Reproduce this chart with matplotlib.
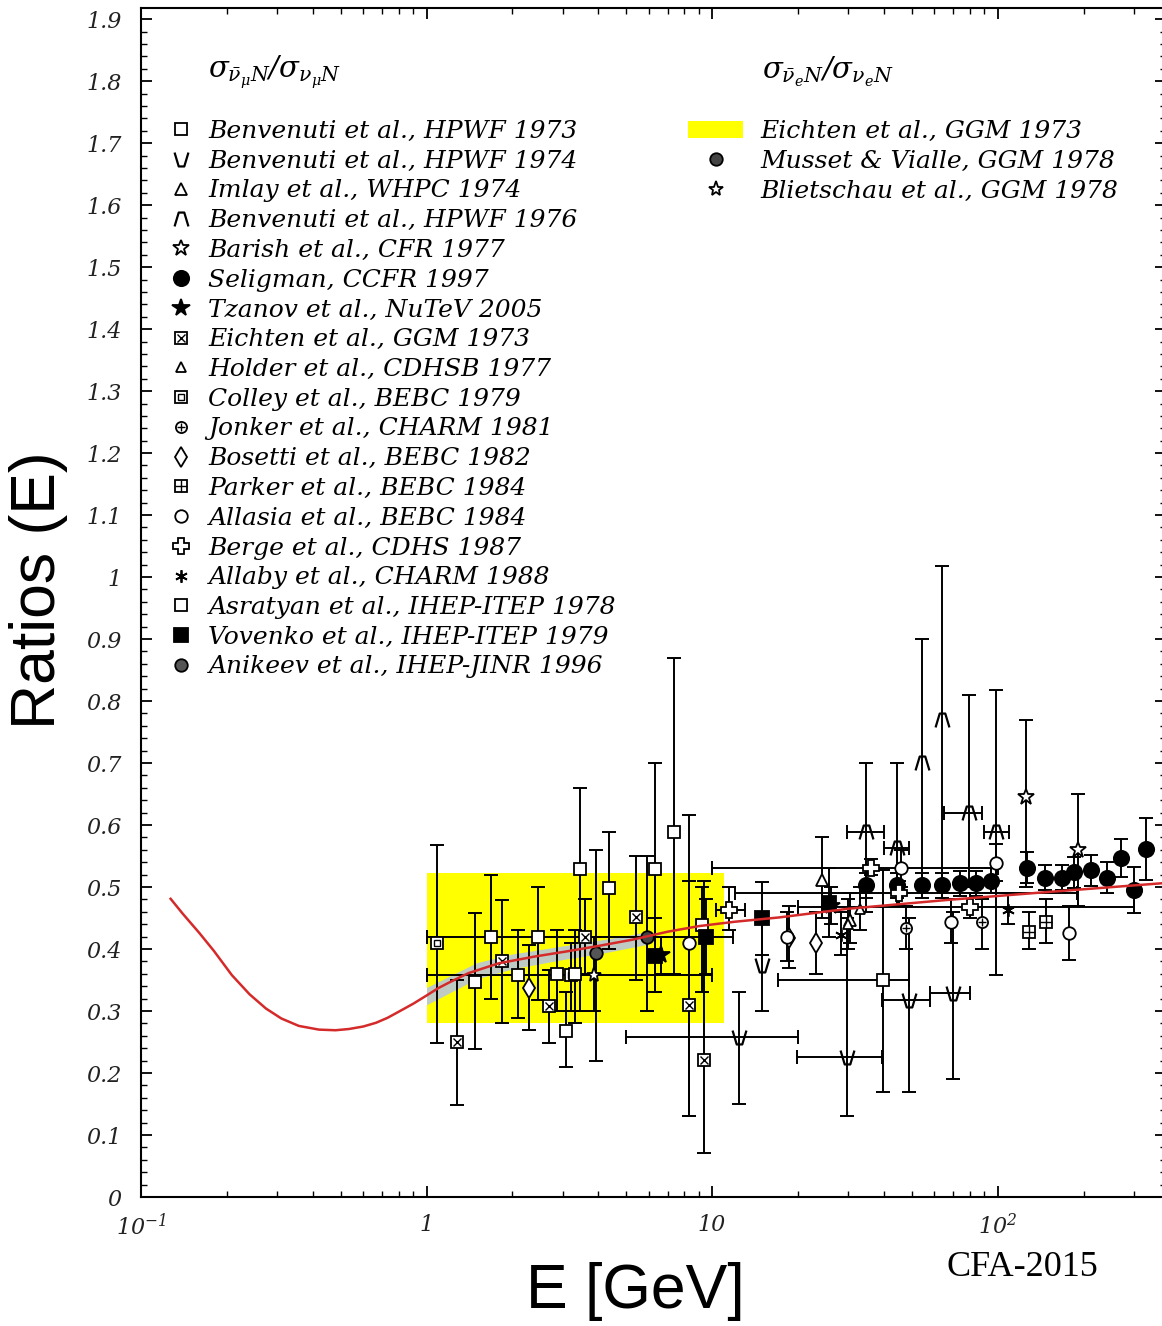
import matplotlib

matplotlib.use("Agg")
import matplotlib.pyplot as plt
from matplotlib.lines import Line2D
from matplotlib.patches import Patch
from matplotlib.ticker import FixedLocator, FixedFormatter, LogLocator, NullFormatter

plt.rcParams["mathtext.fontset"] = "custom"
plt.rcParams["mathtext.rm"] = "DejaVu Serif:italic"
plt.rcParams["mathtext.it"] = "DejaVu Serif:italic"
plt.rcParams["mathtext.sf"] = "DejaVu Serif:italic"

# ---- data: rows are (E, R, R_low, R_high[, E_low, E_high])
hpwf73 = [(1.68, 0.42, 0.32, 0.52), (2.46, 0.42, 0.318, 0.50), (3.45, 0.529, 0.30, 0.66),
          (4.36, 0.498, 0.40, 0.589), (6.33, 0.529, 0.33, 0.70), (7.36, 0.589, 0.36, 0.87),
          (9.2, 0.439, 0.33, 0.50)]
hpwf74 = [(12.4, 0.258, 0.15, 0.33, 5.0, 20.0), (29.7, 0.226, 0.13, 0.45, 19.8, 39.3),
          (49.0, 0.318, 0.17, 0.45, 39.3, 58.0), (69.7, 0.329, 0.19, 0.46, 58.0, 80.0),
          (15.0, 0.374, 0.30, 0.45)]
whpc74 = [(24.3, 0.511, 0.45, 0.58), (30.5, 0.447, 0.41, 0.49)]
hpwf76 = [(34.6, 0.589, 0.46, 0.70, 29.6, 40.0), (44.5, 0.563, 0.47, 0.70, 40.0, 49.0),
          (54.4, 0.70, 0.50, 0.90), (64.0, 0.77, 0.50, 1.018),
          (79.4, 0.62, 0.50, 0.81, 65.0, 88.0), (98.8, 0.589, 0.358, 0.818, 90.0, 110.0)]
cfr77 = [(125.9, 0.645, 0.50, 0.77), (192.0, 0.56, 0.47, 0.65)]
ccfr97_E = [34.6, 44.5, 54.4, 64, 74, 84, 94.5, 127, 147, 168, 185, 213, 242, 270, 300, 330]
ccfr97_R = [0.503, 0.503, 0.503, 0.503, 0.506, 0.506, 0.51, 0.531, 0.515, 0.515, 0.524,
            0.527, 0.515, 0.547, 0.495, 0.561]
ccfr97_err = [0.02, 0.02, 0.02, 0.02, 0.02, 0.02, 0.02, 0.025, 0.02, 0.02, 0.025, 0.025,
              0.025, 0.03, 0.037, 0.05]
nutev05 = [(6.6, 0.39, 0.36, 0.42), (26.0, 0.47, 0.44, 0.50)]
ggm73 = [(1.28, 0.25, 0.148, 0.35), (1.84, 0.38, 0.281, 0.479), (2.69, 0.308, 0.248, 0.366),
         (3.6, 0.42, 0.36, 0.48, 1.0, 11.8), (5.42, 0.452, 0.35, 0.55),
         (8.3, 0.31, 0.13, 0.51), (9.4, 0.221, 0.071, 0.51)]
cdhsb77 = [(30.0, 0.44, 0.40, 0.48), (33.0, 0.465, 0.43, 0.50)]
bebc79 = [(1.09, 0.41, 0.248, 0.568), (3.2, 0.358, 0.30, 0.41, 1.0, 10.0)]
charm81 = [(47.7, 0.434, 0.40, 0.47), (88.0, 0.444, 0.40, 0.48)]
bebc82 = [(2.29, 0.337, 0.269, 0.406), (18.6, 0.418, 0.37, 0.47), (23.1, 0.41, 0.36, 0.46)]
bebc84p = [(129.0, 0.427, 0.40, 0.46), (148.0, 0.444, 0.41, 0.48)]
bebc84a = [(8.3, 0.41, 0.13, 0.616), (18.3, 0.42, 0.38, 0.46), (45.9, 0.531, 0.50, 0.56),
           (68.7, 0.444, 0.41, 0.48), (99.0, 0.539, 0.51, 0.57), (178.0, 0.426, 0.382, 0.47)]
cdhs87 = [(11.5, 0.463, 0.43, 0.50, 10.3, 13.0), (45.0, 0.49, 0.47, 0.51, 12.0, 190.0),
          (80.0, 0.468, 0.45, 0.49, 20.0, 300.0), (36.0, 0.531, 0.52, 0.545, 10.0, 100.0)]
charm88 = [(28.3, 0.423, 0.39, 0.46), (109.0, 0.463, 0.44, 0.49)]
itep78 = [(1.48, 0.347, 0.239, 0.458), (2.09, 0.358, 0.289, 0.43), (2.86, 0.36, 0.30, 0.43),
          (3.08, 0.268, 0.21, 0.33), (3.31, 0.36, 0.28, 0.43), (39.7, 0.35, 0.17, 0.527, 17.0, 49.0)]
itep79 = [(6.33, 0.388, 0.33, 0.45), (9.5, 0.42, 0.36, 0.48), (15.0, 0.45, 0.39, 0.508),
          (25.6, 0.474, 0.42, 0.53)]
jinr96 = [(3.93, 0.394, 0.22, 0.56)]
ggm78m = [(5.92, 0.42, 0.30, 0.55)]
ggm78b = [(3.86, 0.358, 0.30, 0.42)]

# nu_e-bar / nu_e band (Eichten GGM 1973)
band_E = [1.0, 11.0]
band_lo = [0.28, 0.28]
band_hi = [0.522, 0.522]

# theory curve and its uncertainty band
curve_E = [0.127, 0.14, 0.16, 0.18, 0.208, 0.24, 0.274, 0.31, 0.357, 0.42, 0.48, 0.535,
           0.60, 0.665, 0.73, 0.80, 0.90, 1.0, 1.1, 1.2, 1.4, 1.79, 2.4, 3.08, 4.0, 5.25,
           7.0, 9.0, 12.0, 17.2, 30, 66, 150, 374]
curve_R = [0.481, 0.457, 0.426, 0.397, 0.358, 0.327, 0.304, 0.288, 0.276, 0.270, 0.269,
           0.271, 0.275, 0.281, 0.289, 0.299, 0.312, 0.325, 0.337, 0.346, 0.361, 0.377,
           0.388, 0.396, 0.405, 0.415, 0.428, 0.437, 0.444, 0.451, 0.465, 0.479, 0.492, 0.506]
unc_E = [1.0, 1.5, 2.0, 3.0, 4.0, 6.0]
unc_lo = [0.31, 0.352, 0.368, 0.383, 0.392, 0.408]
unc_hi = [0.338, 0.378, 0.392, 0.405, 0.414, 0.428]

xtick_vals = [0.1, 1, 10, 100]
xtick_labels = ["$10^{-1}$", "1", "10", "$10^{2}$"]
ytick_vals = [i / 10 for i in range(20)]
ytick_labels = ["0", "0.1", "0.2", "0.3", "0.4", "0.5", "0.6", "0.7", "0.8", "0.9",
                "1", "1.1", "1.2", "1.3", "1.4", "1.5", "1.6", "1.7", "1.8", "1.9"]

# ---- marker styles (layers drawn on top of each other)
V_DOWN = [(-1, 1), (-0.4, -1), (0.4, -1), (1, 1)]
V_UP = [(-1, -1), (-0.4, 1), (0.4, 1), (1, -1)]
W = "white"


def m(marker, ms=9, mfc=W, mew=1.3):
    return dict(marker=marker, ms=ms, mfc=mfc, mec="black", mew=mew)


left_sets = [
    ("Benvenuti et al., HPWF 1973", hpwf73, [m("s")]),
    ("Benvenuti et al., HPWF 1974", hpwf74, [m(V_DOWN, 10, "none", 1.6)]),
    ("Imlay et al., WHPC 1974", whpc74, [m("^")]),
    ("Benvenuti et al., HPWF 1976", hpwf76, [m(V_UP, 10, "none", 1.6)]),
    ("Barish et al., CFR 1977", cfr77, [m("*", 12)]),
    ("Seligman, CCFR 1997", None, [m("o", 11, "black")]),
    ("Tzanov et al., NuTeV 2005", nutev05, [m("*", 13, "black")]),
    ("Eichten et al., GGM 1973", ggm73, [m("s"), m("x", 6, W, 1.0)]),
    ("Holder et al., CDHSB 1977", cdhsb77, [m("^", 7)]),
    ("Colley et al., BEBC 1979", bebc79, [m("s"), m("s", 4, W, 1.0)]),
    ("Jonker et al., CHARM 1981", charm81, [m("o", 8), m("+", 6, W, 1.0)]),
    ("Bosetti et al., BEBC 1982", bebc82, [m("d", 10)]),
    ("Parker et al., BEBC 1984", bebc84p, [m("s"), m("+", 9, W, 1.0)]),
    ("Allasia et al., BEBC 1984", bebc84a, [m("o", 9)]),
    ("Berge et al., CDHS 1987", cdhs87, [m("P", 12)]),
    ("Allaby et al., CHARM 1988", charm88, [m((6, 2, 0), 9, W, 1.3)]),
    ("Asratyan et al., IHEP-ITEP 1978", itep78, [m("s")]),
    ("Vovenko et al., IHEP-ITEP 1979", itep79, [m("s", 10, "black")]),
    ("Anikeev et al., IHEP-JINR 1996", jinr96, [m("o", 9, "#555555")]),
]
right_sets = [
    ("Musset & Vialle, GGM 1978", ggm78m, [m("o", 9, "#444444")]),
    ("Blietschau et al., GGM 1978", ggm78b, [m("*", 11)]),
]

ERR = dict(fmt="none", ecolor="black", elinewidth=1.4, capsize=5, capthick=1.4, zorder=3)


def draw_set(ax, rows, layers):
    for row in rows:
        e, r, lo, hi = row[:4]
        xerr = [[e - row[4]], [row[5] - e]] if len(row) == 6 else None
        ax.errorbar([e], [r], yerr=[[r - lo], [hi - r]], xerr=xerr, **ERR)
    for st in layers:
        ax.plot([row[0] for row in rows], [row[1] for row in rows],
                linestyle="none", zorder=4, **st)


fig = plt.figure(figsize=(11.62, 13.26), dpi=100)
ax = fig.add_axes([141 / 1162, 129 / 1326, 1025 / 1162, 1189 / 1326])
ax.set_xscale("log")
ax.set_xlim(0.1, 389)
ax.set_ylim(0, 1.918)

ax.fill_between(band_E, band_lo, band_hi, color="#ffff00", lw=0, zorder=1)
ax.fill_between(unc_E, unc_lo, unc_hi, color="#b8c6d8", lw=0, alpha=0.9, zorder=2)
ax.plot(curve_E, curve_R, color="#d42a2a", lw=1.8, zorder=5)

handles, labels = [], []
for label, rows, layers in left_sets:
    if rows is None:
        ax.errorbar(ccfr97_E, ccfr97_R, yerr=ccfr97_err, **ERR)
        for st in layers:
            ax.plot(ccfr97_E, ccfr97_R, linestyle="none", zorder=4, **st)
    else:
        draw_set(ax, rows, layers)
    handles.append(tuple(Line2D([], [], linestyle="none", **st) for st in layers))
    labels.append(label)

rhandles = [Patch(facecolor="#ffff00", edgecolor="none")]
rlabels = ["Eichten et al., GGM 1973"]
for label, rows, layers in right_sets:
    draw_set(ax, rows, layers)
    rhandles.append(tuple(Line2D([], [], linestyle="none", **st) for st in layers))
    rlabels.append(label)

# ---- axes, ticks
for sp in ax.spines.values():
    sp.set_linewidth(1.5)
ax.xaxis.set_major_locator(FixedLocator(xtick_vals))
ax.xaxis.set_major_formatter(FixedFormatter(xtick_labels))
ax.xaxis.set_minor_locator(LogLocator(base=10, subs=range(2, 10)))
ax.xaxis.set_minor_formatter(NullFormatter())
ax.yaxis.set_major_locator(FixedLocator(ytick_vals))
ax.yaxis.set_major_formatter(FixedFormatter(ytick_labels))
ax.yaxis.set_minor_locator(FixedLocator([i / 50 for i in range(96)]))
ax.tick_params(which="both", direction="in", top=True, right=True, color="black")
ax.tick_params(which="major", length=8, width=1.3)
ax.tick_params(which="minor", length=4.5, width=1.0)
ax.tick_params(axis="y", pad=14)
ax.tick_params(axis="x", pad=12)
for t in ax.get_xticklabels() + ax.get_yticklabels():
    t.set_fontfamily("DejaVu Serif")
    t.set_fontstyle("italic")
    t.set_fontsize(16)
    t.set_color("#222222")

ax.set_ylabel("Ratios (E)", fontfamily="Liberation Sans", fontsize=45)
ax.yaxis.set_label_coords(-0.071, 0.51)
ax.set_xlabel("E [GeV]", fontfamily="Liberation Sans", fontsize=45)
ax.xaxis.set_label_coords(0.482, -0.055)

# ---- legends
lfont = dict(family="DejaVu Serif", style="italic", size=18)
leg1 = ax.legend(handles, labels, loc="upper left", bbox_to_anchor=(166 / 1162, 1 - 120 / 1326),
                 bbox_transform=fig.transFigure, frameon=False, prop=lfont, borderpad=0,
                 borderaxespad=0, handlelength=1.2, handletextpad=0.5, labelspacing=0.27)
ax.add_artist(leg1)
ax.legend(rhandles, rlabels, loc="upper left", bbox_to_anchor=(688 / 1162, 1 - 120 / 1326),
          bbox_transform=fig.transFigure, frameon=False, prop=lfont, borderpad=0,
          borderaxespad=0, handlelength=2.2, handletextpad=0.7, labelspacing=0.27)

fig.text(208 / 1162, 1 - 72 / 1326, r"$\sigma_{\bar{\nu}_\mu N}/\sigma_{\nu_\mu N}$",
         fontsize=21, va="center", ha="left")
fig.text(762 / 1162, 1 - 72 / 1326, r"$\sigma_{\bar{\nu}_e N}/\sigma_{\nu_e N}$",
         fontsize=21, va="center", ha="left")
fig.text(1022 / 1162, 1 - 1267 / 1326, "CFA-2015", fontfamily="Liberation Serif",
         fontsize=26, ha="center", va="center")

fig.savefig("out.png", dpi=100)
plt.close(fig)
